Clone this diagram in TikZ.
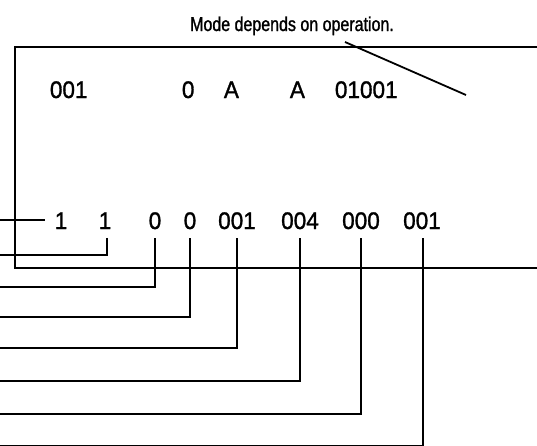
\documentclass[tikz,border=0pt]{standalone}
\usepackage{fontspec}
\setmainfont{Liberation Sans}
\newfontfamily\rowfont[FakeStretch=0.94,FakeBold=1.2]{Liberation Sans}
\newfontfamily\headfont[FakeStretch=0.8,FakeBold=1.2]{Liberation Sans}
\begin{document}
\begin{tikzpicture}[x=1pt,y=-1pt,line width=1.8pt,
  lbl/.style={inner sep=0pt,anchor=base,font=\rowfont\fontsize{24}{24}\selectfont},
  lblw/.style={lbl,anchor=base west},
  toplbl/.style={inner sep=0pt,anchor=base,font=\headfont\fontsize{20}{20}\selectfont},
  conn/.style={line cap=butt,line join=miter}]
\useasboundingbox (0,0) rectangle (537,445);
% heading
\node[toplbl] (mode) at (292,31) {Mode depends on operation.};
% box
\coordinate (tl) at (15,47); \coordinate (tr) at (537,47);
\coordinate (bl) at (15,268); \coordinate (br) at (537,268);
\draw[conn] (tr) -- (tl) -- (bl) -- (br);
\coordinate (d1) at (345,42); \coordinate (d2) at (466,95);
\draw[conn] (d1) -- (d2);
% row 1
\node[lblw] (a1) at (49,98) {001};
\node[lblw] (a2) at (181,98) {0};
\node[lblw] (a3) at (223,98) {A};
\node[lblw] (a4) at (289,98) {A};
\node[lblw] (a5) at (334,98) {01001};
% row 2
\node[lbl] (t1) at (61,229) {1};
\node[lbl] (t2) at (105,229) {1};
\node[lbl] (t3) at (155,229) {0};
\node[lbl] (t4) at (190,229) {0};
\node[lbl] (t5) at (237,229) {001};
\node[lbl] (t6) at (300,229) {004};
\node[lbl] (t7) at (361,229) {000};
\node[lbl] (t8) at (422,229) {001};
% free ends
\coordinate (e1) at (0,220);
\coordinate (e2) at (0,255);
\coordinate (e3) at (0,287);
\coordinate (e4) at (0,317);
\coordinate (e5) at (0,348);
\coordinate (e6) at (0,381);
\coordinate (e7) at (0,414);
\coordinate (e8) at (0,445.5);
% connectors
\draw[conn] (e1) -- ([xshift=-9pt]e1 -| t1.west);
\draw[conn] ([xshift=2pt,yshift=-8pt]t2.south) |- (e2);
\draw[conn] ([yshift=-8pt]t3.south) |- (e3);
\draw[conn] ([yshift=-8pt]t4.south) |- (e4);
\draw[conn] ([yshift=-8pt]t5.south) |- (e5);
\draw[conn] ([yshift=-8pt]t6.south) |- (e6);
\draw[conn] ([yshift=-8pt]t7.south) |- (e7);
\draw[conn] ([xshift=1pt,yshift=-8pt]t8.south) |- (e8);
\end{tikzpicture}
\end{document}
